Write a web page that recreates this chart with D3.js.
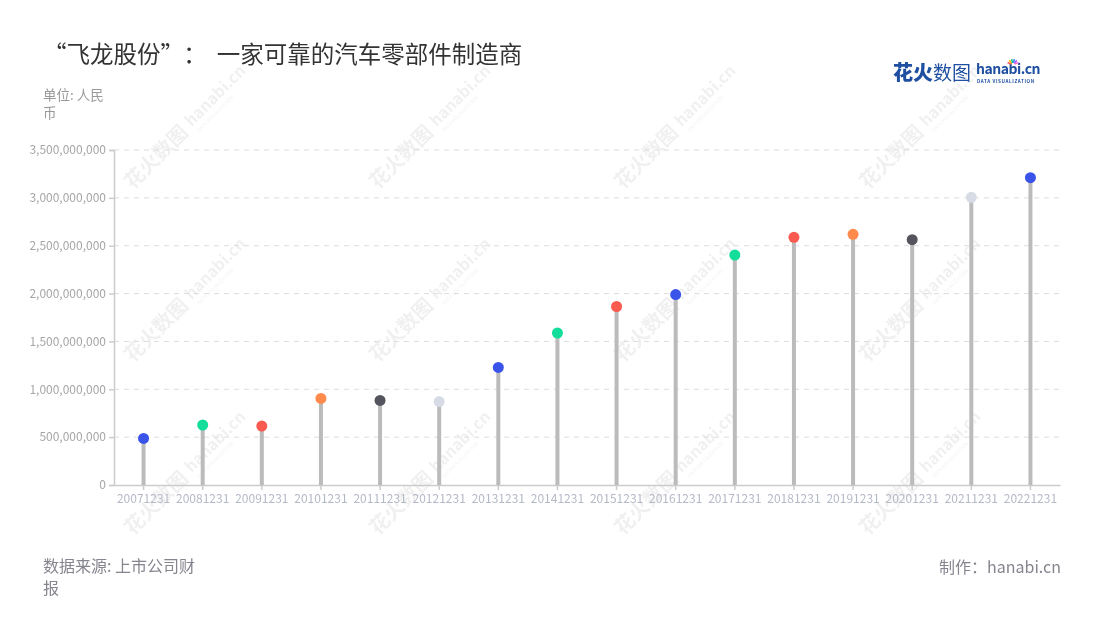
<!DOCTYPE html>
<html><head><meta charset="utf-8">
<script src="https://cdn.jsdelivr.net/npm/d3@7/dist/d3.min.js"></script>
<style>
body{margin:0;background:#fff;}
svg{display:block;font-family:"Noto Sans CJK SC","Noto Sans",sans-serif;}
</style></head>
<body><svg id="chart" width="1100" height="620"></svg>
<script>
const categories = ["20071231","20081231","20091231","20101231","20111231","20121231","20131231","20141231","20151231","20161231","20171231","20181231","20191231","20201231","20211231","20221231"];
const values = [486e6,627e6,616e6,904e6,883e6,872e6,1228e6,1588e6,1865e6,1990e6,2403e6,2588e6,2619e6,2563e6,3006e6,3211e6];
const dotColors = ["#3a53e8","#12dd9b","#fa5a50","#ff8a4c","#54545e","#d6dbe6","#3a53e8","#12dd9b","#fa5a50","#3a53e8","#12dd9b","#fa5a50","#ff8a4c","#54545e","#d6dbe6","#3a53e8"];
const yTicks = [0,500e6,1000e6,1500e6,2000e6,2500e6,3000e6,3500e6];
const titleParts = ["“飞龙股份”","：","一家可靠的汽车零部件制造商"];
const unitLines = ["单位: 人民","币"];
const sourceLines = ["数据来源: 上市公司财","报"];
const creditText = "制作：hanabi.cn";

const svg = d3.select("#chart");
const M = {left:114, right:1060, top:150, bottom:485};

// watermarks
const wm = svg.append("g").attr("opacity",0.06);
const wmX = [183,428,673,918], wmY = [130,303,476];
wmY.forEach(cy=>wmX.forEach(cx=>{
  const g = wm.append("g").attr("transform",`translate(${cx},${cy}) rotate(-45)`);
  g.append("text").attr("x",-78).attr("y",7).attr("font-size",20).attr("font-weight",700).attr("fill","#000").text("花火数图");
  g.append("text").attr("x",8).attr("y",4).attr("font-size",16).attr("font-weight",700).attr("fill","#000").text("hanabi.cn");
  g.append("text").attr("x",10).attr("y",13).attr("font-size",5).attr("fill","#000").text("DATA VISUALIZATION");
}));

const x = d3.scaleBand().domain(categories).range([M.left,M.right]);
const y = d3.scaleLinear().domain([0,3500e6]).range([M.bottom,M.top]);

// gridlines
svg.append("g").selectAll("line").data(yTicks.slice(1)).join("line")
  .attr("x1",M.left).attr("x2",M.right)
  .attr("y1",d=>y(d)).attr("y2",d=>y(d))
  .attr("stroke","#dddddd").attr("stroke-dasharray","5,5").attr("stroke-width",1);

// y axis
const ya = svg.append("g").attr("transform",`translate(${M.left},0)`)
  .call(d3.axisLeft(y).tickValues(yTicks).tickSize(5).tickPadding(3).tickFormat(d3.format(",")));
ya.select(".domain").attr("stroke","#cccccc").attr("stroke-width",1.5);
ya.selectAll(".tick line").attr("stroke","#cccccc").attr("stroke-width",1.5);
ya.selectAll("text").attr("fill","#a6a6a6").attr("font-size",12).attr("font-family","'Noto Sans CJK SC',sans-serif");

// x axis
const xa = svg.append("g").attr("transform",`translate(0,${M.bottom})`)
  .call(d3.axisBottom(x).tickSize(5).tickPadding(4).tickSizeOuter(0));
xa.select(".domain").attr("stroke","#cccccc").attr("stroke-width",1.5);
xa.selectAll(".tick line").attr("stroke","#cccccc").attr("stroke-width",1.5);
xa.selectAll("text").attr("fill","#b4b9c6").attr("font-size",12).attr("font-family","'Noto Sans CJK SC',sans-serif");

// stems
const data = categories.map((c,i)=>({c,v:values[i],col:dotColors[i]}));
svg.append("g").selectAll("line").data(data).join("line")
  .attr("x1",d=>x(d.c)+x.bandwidth()/2).attr("x2",d=>x(d.c)+x.bandwidth()/2)
  .attr("y1",y(0)).attr("y2",d=>y(d.v))
  .attr("stroke","#bbbbbb").attr("stroke-width",4);
svg.append("g").selectAll("circle").data(data).join("circle")
  .attr("cx",d=>x(d.c)+x.bandwidth()/2).attr("cy",d=>y(d.v)).attr("r",5.5)
  .attr("fill",d=>d.col);

// title
const tt = svg.append("text").attr("x",43).attr("y",63).attr("font-size",23.5).attr("fill","#333333");
tt.selectAll("tspan").data(titleParts).join("tspan")
  .attr("dx",(d,i)=>[0,11,10][i]).text(d=>d);
svg.append("g").selectAll("text").data(unitLines).join("text")
  .attr("x",43).attr("y",(d,i)=>100+i*18).attr("font-size",13.5).attr("fill","#999999").text(d=>d);

// footer
svg.append("g").selectAll("text").data(sourceLines).join("text")
  .attr("x",43).attr("y",(d,i)=>572+i*22).attr("font-size",16).attr("fill","#85858f").text(d=>d);
svg.append("text").attr("x",1061).attr("y",573).attr("text-anchor","end").attr("font-size",16).attr("fill","#85858f").text(creditText);

// logo
const lg = svg.append("g");
lg.append("text").attr("x",893).attr("y",80).attr("font-size",20).attr("font-weight",900).attr("fill","#1f4fa0").text("花火");
lg.append("text").attr("x",933).attr("y",80).attr("font-size",19).attr("font-weight",400).attr("fill","#1f4fa0").text("数图");
lg.append("text").attr("x",976).attr("y",74).attr("font-size",14).attr("font-weight",700).attr("fill","#1f4fa0").attr("letter-spacing",-0.5).text("hanabi.cn");
lg.append("text").attr("x",977).attr("y",82.5).attr("font-size",4.6).attr("font-weight",700).attr("fill","#1f4fa0").attr("letter-spacing",0.6).text("DATA VISUALIZATION");
const spark = ["#ff5a5a","#ffb400","#12c98f","#3a8bff","#a05cff","#ff6ec7"];
spark.forEach((c,i)=>{
  const a = -Math.PI/2 + (i-2.5)*0.45;
  lg.append("line").attr("x1",1013+Math.cos(a)*2).attr("y1",65+Math.sin(a)*2)
    .attr("x2",1013+Math.cos(a)*6).attr("y2",65+Math.sin(a)*6)
    .attr("stroke",c).attr("stroke-width",1.6);
});
</script></body></html>
